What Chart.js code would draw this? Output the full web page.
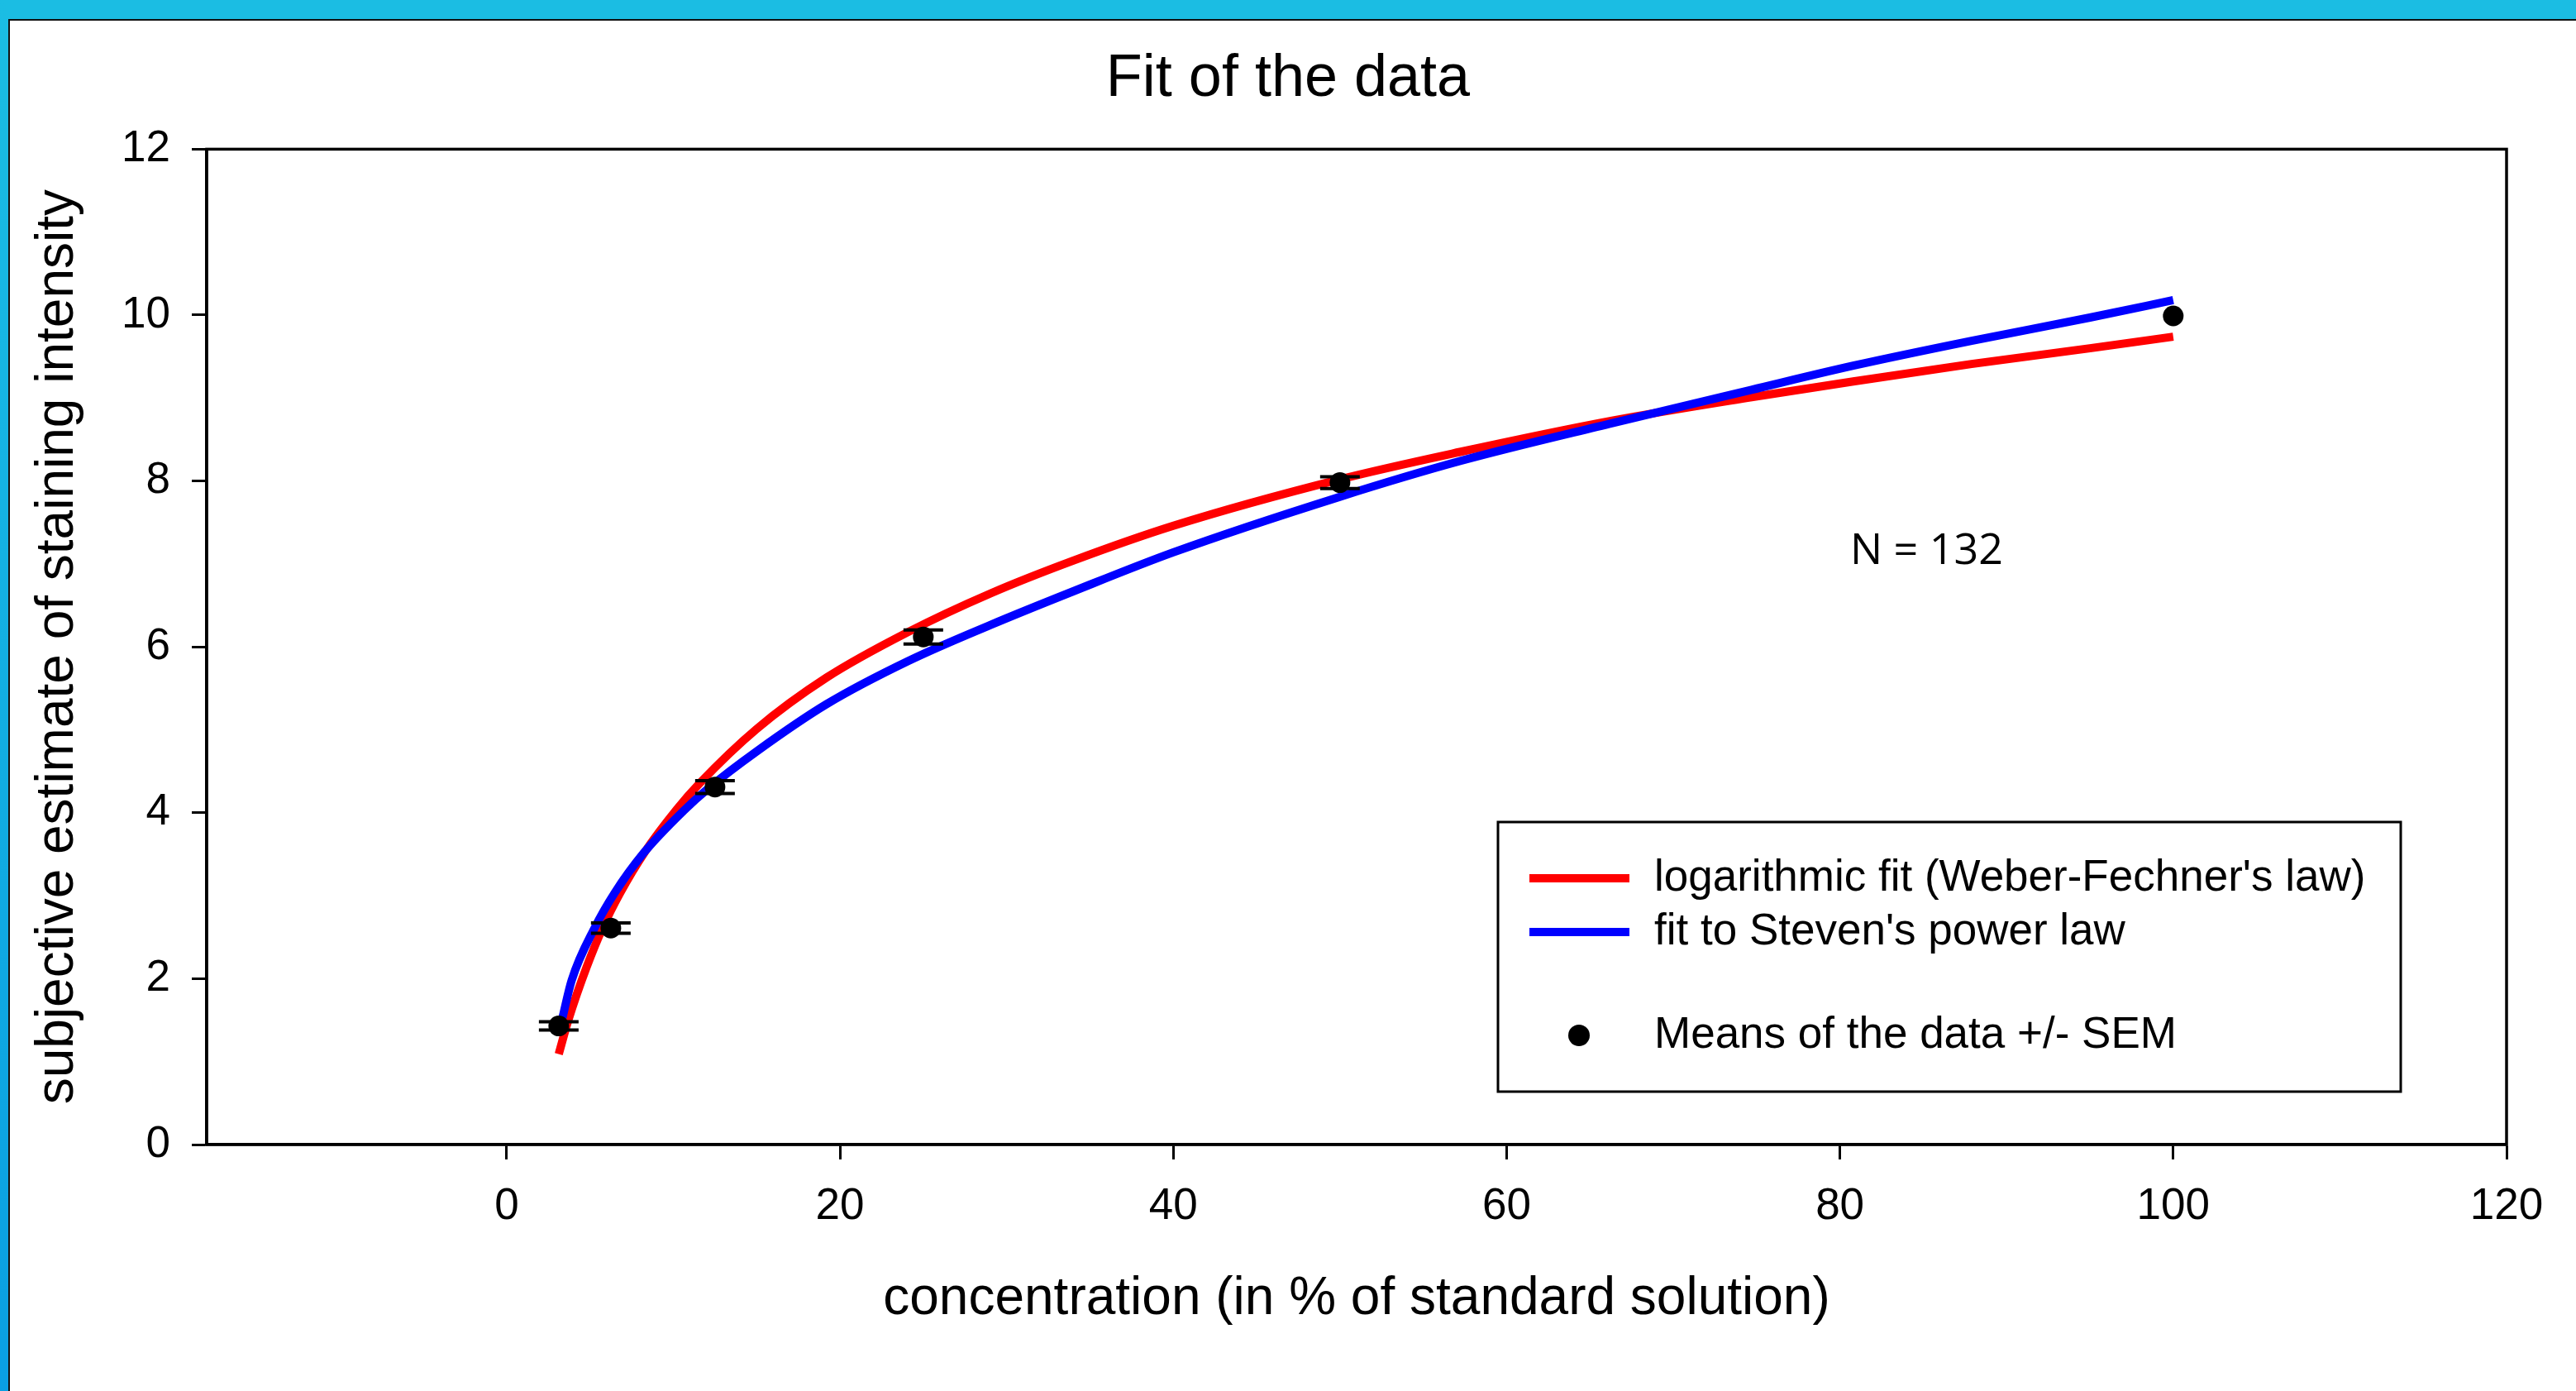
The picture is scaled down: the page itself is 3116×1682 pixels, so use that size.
<!DOCTYPE html>
<html><head><meta charset="utf-8">
<script src="https://cdn.jsdelivr.net/npm/chart.js@4.4.1/dist/chart.umd.min.js"></script>
<style>
html,body{margin:0;padding:0;width:3116px;height:1682px;overflow:hidden;background:#fff;}
#topband{position:absolute;left:0;top:0;width:3116px;height:23px;background:#1bbde3;}
#leftband{position:absolute;left:0;top:0;width:10px;height:1682px;background:linear-gradient(#1bbde3,#0a9fe2);}
#panel{position:absolute;left:10px;top:23px;right:0;bottom:0;background:#fff;border-top:2px solid #111;border-left:2px solid #111;}
#wrap{position:absolute;left:32px;top:26px;width:3052px;height:1608px;}
canvas{display:block;}
</style></head>
<body>
<div id="topband"></div><div id="leftband"></div><div id="panel"></div>
<div id="wrap"><canvas id="c" width="3052" height="1608" style="width:3052px;height:1608px"></canvas></div>
<script>
// ---- data ----
const concentrations = [3.125, 6.25, 12.5, 25, 50, 100];
const meanIntensity  = [1.43, 2.61, 4.31, 6.12, 7.98, 9.99];
const semIntensity   = [0.05, 0.063, 0.078, 0.085, 0.07, 0];

const logFitX = [3.125, 3.7, 4.8, 5.8, 6.8, 8.3, 10.2, 11.6, 15, 19.2, 24.1, 29.1, 34, 40, 50, 57.2, 66.4, 74.7, 80.8, 87.9, 95, 100];
const logFitY = [1.09, 1.50, 2.14, 2.63, 3.03, 3.53, 4.04, 4.36, 5.01, 5.63, 6.18, 6.65, 7.04, 7.46, 8.02, 8.35, 8.73, 9.01, 9.20, 9.41, 9.60, 9.74];

const powerFitX = [3.35, 3.9, 5.3, 6.5, 8.2, 10.6, 12.2, 15, 19.2, 24.1, 29.1, 34, 40, 50, 57.2, 66.4, 74.7, 80.8, 87.9, 95, 100];
const powerFitY = [1.53, 1.98, 2.62, 3.04, 3.51, 4.02, 4.31, 4.74, 5.31, 5.83, 6.27, 6.67, 7.14, 7.81, 8.24, 8.70, 9.10, 9.39, 9.69, 9.97, 10.18];

const xTicks = [0, 20, 40, 60, 80, 100, 120];
const yTicks = [0, 2, 4, 6, 8, 10, 12];

const chartTitle = 'Fit of the data';
const xTitle = 'concentration (in % of standard solution)';
const yTitle = 'subjective estimate of staining intensity';
const nLabel = 'N = 132';
const nLabelPos = [85.2, 7.15];

const labelMeans = 'Means of the data +/- SEM';
const labelPower = "fit to Steven's power law";
const labelLog = "logarithmic fit (Weber-Fechner's law)";

// ---- chart ----
const FONT = "'Liberation Sans', Arial, sans-serif";
Chart.defaults.font.family = FONT;
Chart.defaults.color = '#000';

const framePlugin = {
  id: 'frame',
  beforeDatasetsDraw(chart) {
    const {ctx, chartArea: a} = chart;
    ctx.save();
    ctx.strokeStyle = '#000';
    ctx.lineWidth = 3.5;
    ctx.strokeRect(a.left, a.top, a.right - a.left, a.bottom - a.top);
    ctx.restore();
  }
};

const errorBarPlugin = {
  id: 'errorBars',
  afterDatasetsDraw(chart) {
    const {ctx} = chart;
    const xs = chart.scales.x, ys = chart.scales.y;
    ctx.save();
    ctx.strokeStyle = '#000';
    ctx.lineWidth = 4;
    concentrations.forEach((c, i) => {
      const e = semIntensity[i];
      if (!e) return;
      const px = xs.getPixelForValue(c);
      const p1 = ys.getPixelForValue(meanIntensity[i] + e);
      const p2 = ys.getPixelForValue(meanIntensity[i] - e);
      ctx.beginPath();
      ctx.moveTo(px, p1); ctx.lineTo(px, p2);
      ctx.moveTo(px - 24, p1); ctx.lineTo(px + 24, p1);
      ctx.moveTo(px - 24, p2); ctx.lineTo(px + 24, p2);
      ctx.stroke();
    });
    ctx.restore();
  }
};

const annotationPlugin = {
  id: 'nLabel',
  afterDatasetsDraw(chart) {
    const {ctx} = chart;
    const px = chart.scales.x.getPixelForValue(nLabelPos[0]);
    const py = chart.scales.y.getPixelForValue(nLabelPos[1]);
    ctx.save();
    ctx.fillStyle = '#000';
    ctx.font = "52px 'Open Sans', sans-serif";
    ctx.textAlign = 'center';
    ctx.textBaseline = 'middle';
    ctx.fillText(nLabel, px, py);
    ctx.restore();
  }
};

const boxLegendPlugin = {
  id: 'boxLegend',
  afterDraw(chart) {
    const {ctx, chartArea: a} = chart;
    const ds = chart.data.datasets;
    const left = a.right - 1220, top = a.bottom - 390, w = 1092, h = 326;
    ctx.save();
    ctx.fillStyle = '#fff';
    ctx.fillRect(left, top, w, h);
    ctx.strokeStyle = '#000';
    ctx.lineWidth = 3;
    ctx.strokeRect(left, top, w, h);
    const rows = [{d: ds[2], y: 68, kind: 'line'}, {d: ds[1], y: 133, kind: 'line'}, {d: ds[0], y: 258, kind: 'point'}];
    ctx.font = '53px ' + FONT;
    ctx.textAlign = 'left';
    ctx.textBaseline = 'middle';
    rows.forEach(r => {
      const yy = top + r.y;
      if (r.kind === 'line') {
        ctx.strokeStyle = r.d.borderColor;
        ctx.lineWidth = 10;
        ctx.beginPath();
        ctx.moveTo(left + 38, yy); ctx.lineTo(left + 159, yy);
        ctx.stroke();
      } else {
        ctx.fillStyle = r.d.pointBackgroundColor;
        ctx.beginPath();
        ctx.arc(left + 98, yy, 13, 0, Math.PI * 2);
        ctx.fill();
      }
      ctx.fillStyle = '#000';
      ctx.fillText(r.d.label, left + 189, yy);
    });
    ctx.restore();
  }
};

const titleFont = {family: FONT, size: 64};

new Chart(document.getElementById('c'), {
  type: 'scatter',
  data: {
    datasets: [
      {
        label: labelMeans,
        data: concentrations.map((x, i) => ({x: x, y: meanIntensity[i]})),
        pointRadius: 12.5,
        pointBackgroundColor: '#000',
        pointBorderWidth: 0,
        showLine: false
      },
      {
        label: labelPower,
        data: powerFitX.map((x, i) => ({x: x, y: powerFitY[i]})),
        showLine: true,
        borderColor: '#0000ff',
        borderWidth: 10,
        pointRadius: 0,
        cubicInterpolationMode: 'monotone',
        fill: false
      },
      {
        label: labelLog,
        data: logFitX.map((x, i) => ({x: x, y: logFitY[i]})),
        showLine: true,
        borderColor: '#ff0000',
        borderWidth: 10,
        pointRadius: 0,
        cubicInterpolationMode: 'monotone',
        fill: false
      }
    ]
  },
  options: {
    responsive: false,
    animation: false,
    events: [],
    layout: {padding: 0},
    plugins: {
      legend: {display: false},
      tooltip: {enabled: false},
      title: {
        display: true,
        text: chartTitle,
        color: '#000',
        font: {family: FONT, size: 72, weight: 'normal'},
        padding: {top: 27, bottom: 41}
      }
    },
    scales: {
      x: {
        type: 'linear',
        position: 'bottom',
        min: -18,
        max: 120,
        afterBuildTicks: s => { s.ticks = xTicks.map(v => ({value: v})); },
        afterFit: s => { s.height = 250; },
        ticks: {font: {family: FONT, size: 53, lineHeight: 1.925}, color: '#000', padding: 6, maxRotation: 0, autoSkip: false},
        grid: {drawOnChartArea: false, drawTicks: true, tickLength: 18, tickWidth: 3, tickColor: '#000'},
        border: {display: true, color: '#000', width: 3.5},
        title: {display: true, text: xTitle, color: '#000', font: titleFont, padding: {top: 0, bottom: 24}}
      },
      y: {
        type: 'linear',
        position: 'left',
        min: 0,
        max: 12,
        afterBuildTicks: s => { s.ticks = yTicks.map(v => ({value: v})); },
        afterFit: s => { s.width = 218; },
        ticks: {font: {family: FONT, size: 53}, color: '#000', padding: 26},
        grid: {drawOnChartArea: false, drawTicks: true, tickLength: 18, tickWidth: 3, tickColor: '#000'},
        border: {display: true, color: '#000', width: 3.5},
        title: {display: true, text: yTitle, color: '#000', font: titleFont, padding: {top: 0, bottom: 0}}
      },
      yR: {
        type: 'linear',
        position: 'right',
        display: true,
        ticks: {display: false},
        grid: {display: false},
        border: {display: false},
        afterFit: s => { s.width = 52; }
      }
    }
  },
  plugins: [framePlugin, errorBarPlugin, annotationPlugin, boxLegendPlugin]
});
</script>
</body></html>
